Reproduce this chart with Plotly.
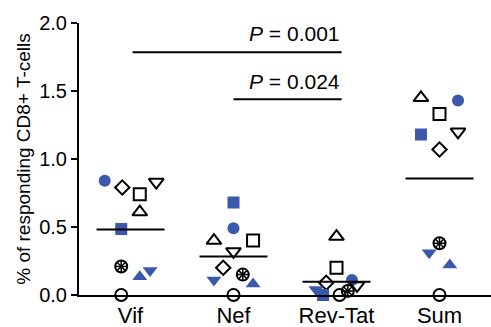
import numpy as np
import plotly.graph_objects as go

categories = ["Vif", "Nef", "Rev-Tat", "Sum"]

# per-donor values (Vif, Nef, Rev-Tat, Sum)
blue_circle = [0.84, 0.49, 0.11, 1.43]
open_diamond = [0.79, 0.20, 0.09, 1.07]
open_square = [0.74, 0.40, 0.20, 1.33]
open_tri_down = [0.83, 0.32, 0.07, 1.20]
open_tri_up = [0.61, 0.40, 0.43, 1.45]
blue_square = [0.485, 0.68, 0.0, 1.18]
asterisk_circle = [0.21, 0.15, 0.03, 0.38]
blue_tri_up = [0.135, 0.08, 0.01, 0.22]
blue_tri_down = [0.18, 0.11, 0.04, 0.31]
open_circle = [0.0, 0.0, 0.0, 0.0]

# horizontal scatter offsets (jitter as in the picture)
jitter = {
    "blue_circle": [-0.25, 0.0, 0.15, 0.18],
    "open_diamond": [-0.08, -0.10, -0.10, 0.0],
    "open_square": [0.09, 0.19, 0.0, 0.0],
    "open_tri_down": [0.25, 0.0, 0.20, 0.18],
    "open_tri_up": [0.09, -0.19, 0.0, -0.18],
    "blue_square": [-0.09, 0.0, -0.13, -0.18],
    "asterisk_circle": [-0.09, 0.09, 0.11, 0.0],
    "blue_tri_up": [0.09, 0.19, -0.15, 0.10],
    "blue_tri_down": [0.19, -0.19, -0.20, -0.10],
    "open_circle": [-0.09, 0.0, 0.03, 0.0],
}

p_labels = ["<i>P</i> = 0.001", "<i>P</i> = 0.024"]

BLUE = "#3B59AA"
BLACK = "#000000"
FONT = "Liberation Sans, Arial, sans-serif"

donors = [
    ("blue_circle", blue_circle, "circle", BLUE, 12, 0),
    ("open_diamond", open_diamond, "diamond-open", BLACK, 11, 2),
    ("open_square", open_square, "square-open", BLACK, 12, 2),
    ("open_tri_down", open_tri_down, "triangle-down-open", BLACK, 13, 2),
    ("open_tri_up", open_tri_up, "triangle-up-open", BLACK, 13, 2),
    ("blue_square", blue_square, "square", BLUE, 12, 0),
    ("asterisk_circle", asterisk_circle, "circle-open", BLACK, 12, 2),
    ("asterisk_circle", asterisk_circle, "asterisk-open", BLACK, 10, 1.5),
    ("blue_tri_up", blue_tri_up, "triangle-up", BLUE, 13, 0),
    ("blue_tri_down", blue_tri_down, "triangle-down", BLUE, 13, 0),
    ("open_circle", open_circle, "circle-open", BLACK, 12, 2),
]

fig = go.Figure()
for name, vals, sym, col, size, lw in donors:
    xs = [i + o for i, o in enumerate(jitter[name])]
    fig.add_trace(go.Scatter(
        x=xs, y=vals, mode="markers", cliponaxis=False, showlegend=False,
        marker=dict(symbol=sym, size=size, color=col,
                    line=dict(color=col, width=lw)),
    ))

# mean lines
all_vals = np.array([blue_circle, open_diamond, open_square, open_tri_down, open_tri_up,
                     blue_square, asterisk_circle, blue_tri_up, blue_tri_down, open_circle])
means = all_vals.mean(axis=0)
for i, m in enumerate(means):
    fig.add_shape(type="line", x0=i - 0.33, x1=i + 0.33, y0=m, y1=m,
                  line=dict(color=BLACK, width=2))

# significance lines
fig.add_shape(type="line", x0=0.02, x1=2.05, y0=1.785, y1=1.785, line=dict(color=BLACK, width=2))
fig.add_shape(type="line", x0=1.0, x1=2.05, y0=1.44, y1=1.44, line=dict(color=BLACK, width=2))
fig.add_annotation(x=2.05, y=1.92, text=p_labels[0], showarrow=False, xanchor="right",
                   yanchor="middle", font=dict(family=FONT, size=21, color=BLACK))
fig.add_annotation(x=2.05, y=1.57, text=p_labels[1], showarrow=False, xanchor="right",
                   yanchor="middle", font=dict(family=FONT, size=21, color=BLACK))

fig.update_layout(
    width=491, height=327,
    margin=dict(l=79, r=0, t=23, b=32),
    plot_bgcolor="white", paper_bgcolor="white",
    font=dict(family=FONT, color=BLACK),
    xaxis=dict(range=[-0.5, 3.5], tickvals=[0, 1, 2, 3], ticktext=categories,
               showline=True, linecolor=BLACK, linewidth=2, ticks="", automargin=False,
               showgrid=False, zeroline=False, tickfont=dict(size=22), ticklabelstandoff=0),
    yaxis=dict(range=[0, 2], tickvals=[0, 0.5, 1.0, 1.5, 2.0], tickformat=".1f",
               showline=True, linecolor=BLACK, linewidth=2, ticks="outside", automargin=False,
               ticklen=6, tickwidth=2, tickcolor=BLACK, showgrid=False, zeroline=False,
               tickfont=dict(size=20),
               title=dict(text="% of responding CD8+ T-cells", font=dict(size=19), standoff=4)),
)

fig.write_html("out.html")
